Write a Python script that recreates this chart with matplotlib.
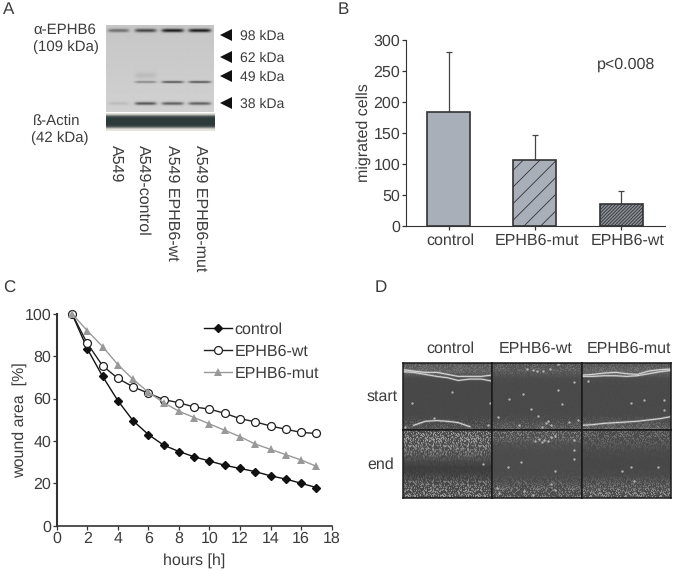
import numpy as np
import matplotlib
matplotlib.use('Agg')
import matplotlib.pyplot as plt

plt.rcParams['font.family'] = ['Liberation Sans', 'DejaVu Sans']
plt.rcParams['hatch.linewidth'] = 0.6
plt.rcParams['text.hinting'] = 'none'
plt.rcParams['text.hinting_factor'] = 1

W, H = 675, 571
TXT = '#3c3c3c'
FS = 11.2
FS_A = 10.6

# panel A
marker_sizes = ['98 kDa', '62 kDa', '49 kDa', '38 kDa']
lanes = ['A549', 'A549-control', 'A549 EPHB6-wt', 'A549 EPHB6-mut']
# darkness of each band per lane, rows are top band, 49 kDa smear, 49 kDa, 38 kDa
band_dark = [[85, 125, 165, 165],
             [0, 16, 0, 0],
             [0, 65, 110, 110],
             [18, 115, 105, 105]]
band_rows = [30, 75, 81.5, 103]
band_sigma = [1.8, 3, 1.2, 1.6]

# panel B
groups = ['control', 'EPHB6-mut', 'EPHB6-wt']
migrated = [184, 106, 35]
migrated_err = [96, 40, 21]

# panel C
hours = list(range(1, 18))
control = [100, 83.5, 70.5, 59, 49.5, 43, 38, 35, 32.5, 30.5, 28.5, 27, 25.5, 23.5, 22, 20, 18]
wt = [100, 86, 75.5, 69.5, 65.5, 62.5, 59.5, 58, 56, 55, 53, 50.5, 49, 47, 45.5, 44, 43.5]
mut = [100, 92, 84.5, 76, 69, 63, 58, 54, 51, 48, 45, 42, 38.5, 36, 33.5, 31, 28]

# panel D, brightness from top to bottom of each micrograph
col_names = ['control', 'EPHB6-wt', 'EPHB6-mut']
row_names = ['start', 'end']
brightness = [[[92, 100, 74, 72, 72, 72, 72, 72, 74, 88],
               [88, 92, 76, 74, 74, 74, 74, 74, 80, 92],
               [88, 100, 76, 74, 74, 74, 74, 74, 82, 100]],
              [[92, 96, 98, 92, 76, 62, 66, 86, 90, 92],
               [90, 92, 80, 76, 76, 76, 76, 82, 90, 92],
               [84, 84, 80, 74, 72, 72, 74, 82, 92, 96]]]
speckle_amp = [[[30, 25, 3, 2, 2, 2, 2, 3, 25, 30],
                [35, 25, 3, 2, 2, 2, 2, 3, 25, 35],
                [30, 25, 3, 2, 2, 2, 2, 3, 25, 40]],
               [[85, 95, 100, 75, 20, 5, 15, 75, 90, 95],
                [60, 55, 15, 4, 3, 3, 8, 35, 65, 65],
                [45, 45, 28, 8, 3, 3, 8, 40, 70, 85]]]
speckle = [[0.1, 0.9, 0.0, 0.4, 0.0, 0.7, 0.1],
           [0.5, 0.0, 0.2, 1.0, 0.1, 0.0, 0.6],
           [0.0, 0.3, 0.8, 0.0, 0.2, 0.9, 0.0],
           [0.9, 0.0, 0.1, 0.3, 0.7, 0.0, 0.2],
           [0.2, 0.6, 0.0, 0.8, 0.0, 0.1, 1.0]]
edge_x = [0, 0.12, 0.25, 0.38, 0.5, 0.62, 0.75, 0.88, 1]
nan = float('nan')
edges = [[[[0.1, 0.12, 0.14, 0.14, 0.17, 0.2, 0.2, 0.2, 0.18],
           [0.13, 0.14, 0.17, 0.2, 0.22, 0.26, 0.24, 0.24, 0.27],
           [nan, 0.93, 0.87, 0.86, 0.87, 0.89, 0.95, nan, nan]],
          [],
          [[0.18, 0.17, 0.15, 0.14, 0.16, 0.17, 0.12, 0.1, 0.09],
           [0.2, 0.2, 0.19, 0.19, 0.2, 0.19, 0.16, 0.13, 0.11],
           [0.93, 0.92, 0.9, 0.89, 0.88, 0.87, 0.85, 0.83, 0.8]]],
         [[], [], []]]
spots = [[[(.55, .43), (.1, .6), (.98, .6), (.02, .95), (.95, .93), (.35, .82)],
          [(.39, .09), (.64, .09), (.73, .01), (.91, .29), (.34, .47), (.19, .53), (.78, .61),
           (.73, .40), (.07, .81), (.60, .89), (.66, .92), (.96, .85), (.51, .79), (.43, .69),
           (.5, .12), (.57, .12), (.45, .11), (.55, .95), (.3, .93), (.85, .88), (.62, .86)],
          [(.07, .27), (.7, .55), (.92, .55), (.92, .7), (.55, .6)]],
         [[(.9, .5)],
          [(.48, .16), (.52, .13), (.55, .17), (.58, .14), (.62, .16), (.65, .10), (.7, .09),
           (.91, .14), (.91, .3), (.18, .55), (.32, .47), (.70, .6), (.91, .43), (.05, .85),
           (.08, .92), (.35, .9), (.65, .8), (.7, .88), (.45, .95)],
          [(.55, .55), (.85, .55), (.58, .75), (.45, .6)]]]

fig = plt.figure(figsize=(W / 100, H / 100), dpi=100)


def px_axes(x0, y0, x1, y1):
    return fig.add_axes([x0 / W, 1 - y1 / H, (x1 - x0) / W, (y1 - y0) / H])


# overlay for free text and the size arrows, in pixels
page = px_axes(0, 0, W, H)
page.set_xlim(0, W)
page.set_ylim(H, 0)
page.axis('off')
for s, x, y in [('A', 3, 10), ('B', 338, 10), ('C', 3, 288), ('D', 375, 288)]:
    page.text(x, y, s, fontsize=12.5, color=TXT, va='center')

# blot
blot = px_axes(106, 25, 213, 112)
yy, xx = np.mgrid[25:112, 106:213]
img = 198.0 + (yy - 25) * 0.12
for r, row in enumerate(band_rows):
    for k, dark in enumerate(band_dark[r]):
        cx = 118 + k * 26.8
        half = 10.5 + k * 0.2
        mask = np.exp(-((xx - cx) / half) ** 6)
        img = img - dark * mask * np.exp(-((yy - row) / band_sigma[r]) ** 2)
blot.imshow(img, cmap='gray', vmin=0, vmax=255, aspect='auto', interpolation='bilinear')
blot.axis('off')

actin = px_axes(106, 113, 215, 131)
yy, xx = np.mgrid[113:131, 106:215]
act = np.exp(-((yy - 121) / 6.5) ** 6)
rgb = np.zeros(yy.shape + (3,))
for c, (light, dark_c) in enumerate(zip((232, 230, 222), (45, 58, 58))):
    rgb[..., c] = (light + (dark_c - light) * act) / 255
actin.imshow(rgb, aspect='auto', interpolation='bilinear')
actin.axis('off')

page.text(33, 30, 'α-EPHB6', fontsize=11, color=TXT, va='center')
page.text(33, 47, '(109 kDa)', fontsize=FS_A, color=TXT, va='center')
page.text(33, 122, 'ß-Actin', fontsize=11, color=TXT, va='center')
page.text(31, 138, '(42 kDa)', fontsize=FS_A, color=TXT, va='center')
for s, y in zip(marker_sizes, [35, 57, 76, 103]):
    page.plot(226, y, marker='<', ms=9, color='#111111', mew=0)
    page.text(239.5, y + 1, s, fontsize=10.4, color=TXT, va='center')
for s, x in zip(lanes, [116.5, 143, 172, 200.5]):
    page.text(x, 145, s, fontsize=FS, color=TXT, rotation=270, ha='center', va='top')

# panel B
ax_b = px_axes(405.7, 40, 665, 226)
x_pos = [1, 2, 3]
fills = ['#a9afb9', '#a9afb9', '#8a8f98']
hatches = [None, '//', '/' * 10]
ax_b.bar(x_pos, migrated, width=0.5, color=fills, edgecolor='#333333', linewidth=1.2,
         hatch=hatches, zorder=3)
ax_b.errorbar(x_pos, migrated, yerr=[[0, 0, 0], migrated_err], fmt='none', ecolor='#444444',
              elinewidth=0.9, capsize=2.5, capthick=0.9, zorder=2)
ax_b.set_xlim(0.5, 3.51)
ax_b.set_ylim(0, 300)
ax_b.set_xticks(x_pos)
ax_b.set_xticklabels([])
ax_b.set_yticks(range(0, 301, 50))
ax_b.set_ylabel('migrated cells', fontsize=FS, color=TXT)
ax_b.yaxis.set_label_coords(-35 / 259.3, 0.5)
ax_b.text(2.715, 261, 'p<0.008', fontsize=FS, color=TXT, va='center')
ax_b.spines[['top', 'right']].set_visible(False)
# labels sit a little right of the bars in the original
for s, x in zip(groups, [450, 537, 628]):
    page.text(x, 241, s, fontsize=FS, color=TXT, ha='center', va='center')

# panel C
ax_c = px_axes(56.7, 313.7, 331.7, 525.7)
ax_c.plot(hours, control, '-D', color='#111111', lw=1, ms=4.1, label='control', clip_on=False)
ax_c.plot(hours, wt, '-o', color='#222222', mfc='white', mew=0.9, lw=1, ms=5.7, label='EPHB6-wt',
          clip_on=False)
ax_c.plot(hours, mut, '-^', color='#999999', lw=1, ms=5.2, mew=0, label='EPHB6-mut', clip_on=False)
ax_c.set_xlim(0, 18)
ax_c.set_ylim(0, 100)
ax_c.set_xticks(range(0, 19, 2))
ax_c.set_yticks(range(0, 101, 20))
ax_c.set_xlabel('hours [h]', fontsize=FS, color=TXT)
ax_c.set_ylabel('wound area  [%]', fontsize=FS, color=TXT)
ax_c.xaxis.set_label_coords(0.5, -27 / 212)
ax_c.yaxis.set_label_coords(-30 / 275, 0.5)
ax_c.spines[['top', 'right']].set_visible(False)
ax_c.spines['left'].set_linewidth(1.5)
ax_c.spines['bottom'].set_linewidth(1.2)
ax_c.legend(loc='upper left', bbox_to_anchor=(0.534, 0.96), frameon=False, fontsize=FS,
            labelcolor=TXT, handlelength=1.8, handletextpad=0.2, labelspacing=0.45,
            borderpad=0, borderaxespad=0)

for ax in (ax_b, ax_c):
    ax.patch.set_alpha(0)
    ax.tick_params(labelsize=FS, labelcolor=TXT, color='#333333', length=2.8, width=0.9, pad=1.2)
    ax.spines['left'].set_color('#333333')
    ax.spines['bottom'].set_color('#333333')

# panel D
col_px = [403, 492, 582, 671]
row_px = [363, 430, 498]
tile = np.array(speckle)
for r in range(2):
    for c in range(3):
        ax = px_axes(col_px[c], row_px[r], col_px[c + 1], row_px[r + 1])
        ny, nx = row_px[r + 1] - row_px[r], col_px[c + 1] - col_px[c]
        frac = np.arange(ny) / (ny - 1) * 9
        base = np.interp(frac, range(10), brightness[r][c])[:, None]
        amp = np.interp(frac, range(10), speckle_amp[r][c])[:, None]
        # grain: walk the small tile so it does not look like a grid
        ii, jj = np.mgrid[0:ny, 0:nx]
        tex = tile[(ii * ii * 3 + jj * jj * 2 + ii * jj + c + r) % 5,
                   (ii * jj + jj * jj * jj * 3 + ii * 5 + c) % 7]
        ax.imshow(base + amp * (tex - 0.25), cmap='gray', vmin=0, vmax=255, aspect='auto',
                  extent=(0, 1, 1, 0), interpolation='bilinear')
        for e in edges[r][c]:
            ax.plot(edge_x, e, color='#dddddd', lw=1.7, alpha=0.3)
            ax.plot(edge_x, e, color='#e4e4e4', lw=0.7, alpha=0.9)
        if spots[r][c]:
            sx, sy = zip(*spots[r][c])
            ax.scatter(sx, sy, s=3, color='#c8c8c8', linewidths=0, alpha=0.8)
        ax.set_xlim(0, 1)
        ax.set_ylim(1, 0)
        ax.set_xticks([])
        ax.set_yticks([])
        for sp in ax.spines.values():
            sp.set_color('#1a1a1a')
            sp.set_linewidth(1.1)

for s, x in zip(col_names, [450, 536, 629]):
    page.text(x, 349, s, fontsize=FS, color=TXT, ha='center', va='center')
for s, y in zip(row_names, [397, 465]):
    page.text(367, y, s, fontsize=FS, color=TXT, va='center')

fig.savefig('out.png', dpi=100)
